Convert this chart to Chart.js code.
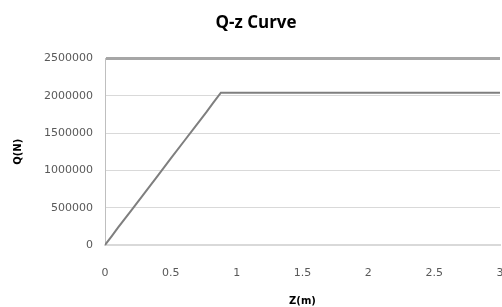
<!DOCTYPE html>
<html lang="en">
<head>
<meta charset="UTF-8">
<title>Q-z Curve</title>
<script src="https://cdn.jsdelivr.net/npm/chart.js"></script>
<style>
    html, body { margin: 0; padding: 0; background: #fff; }
    #wrap { width: 502px; height: 307px; }
</style>
</head>
<body>
<div id="wrap"><canvas id="qz" width="502" height="307"></canvas></div>
<script>
    // Data
    const zValues = [0, 0.05, 0.1, 0.2, 0.3, 0.4, 0.5, 0.6, 0.7, 0.77, 0.82, 0.88, 3];
    const qValues = [0, 115000, 235000, 465000, 695000, 925000, 1160000, 1390000, 1620000, 1780000, 1900000, 2040000, 2040000];
    const xTicks = [0, 0.5, 1, 1.5, 2, 2.5, 3];
    const yTicks = [0, 500000, 1000000, 1500000, 2000000, 2500000];

    const points = zValues.map((z, i) => ({ x: z, y: qValues[i] }));

    new Chart(document.getElementById('qz'), {
        type: 'scatter',
        data: {
            datasets: [{
                label: 'Q',
                data: points,
                showLine: true,
                borderColor: '#7f7f7f',
                borderWidth: 2,
                pointRadius: 0,
                tension: 0
            }]
        },
        options: {
            responsive: false,
            animation: false,
            layout: { padding: { left: 12, right: 2, top: 0, bottom: 0 } },
            plugins: {
                legend: { display: false },
                tooltip: { enabled: false },
                title: {
                    display: true,
                    text: 'Q-z Curve',
                    color: '#000',
                    font: { family: 'Open Sans', size: 17, weight: 'bold' },
                    padding: { top: 13, bottom: 25 }
                }
            },
            scales: {
                x: {
                    type: 'linear',
                    min: 0,
                    max: 3,
                    afterBuildTicks: s => { s.ticks = xTicks.map(v => ({ value: v })); },
                    afterFit: s => { s.height = 62; s.paddingRight = 2; },
                    grid: { display: false },
                    border: { color: '#d9d9d9', width: 2 },
                    ticks: {
                        color: '#595959',
                        font: { family: 'DejaVu Sans', size: 11 },
                        padding: 14,
                        maxRotation: 0,
                        callback: v => String(v)
                    },
                    title: {
                        display: true,
                        text: 'Z(m)',
                        color: '#000',
                        font: { family: 'DejaVu Sans', size: 10, weight: 'bold' },
                        padding: { top: 10, bottom: 0 }
                    }
                },
                y: {
                    min: 0,
                    max: 2500000,
                    afterBuildTicks: s => { s.ticks = yTicks.map(v => ({ value: v })); },
                    afterFit: s => { s.width = 93; },
                    border: { color: '#bfbfbf', width: 1 },
                    grid: {
                        drawTicks: false,
                        color: ctx => ctx.tick && ctx.tick.value === 2500000 ? '#a6a6a6' : '#d9d9d9',
                        lineWidth: ctx => ctx.tick && ctx.tick.value === 2500000 ? 3 : (ctx.tick && ctx.tick.value === 0 ? 2 : 1)
                    },
                    ticks: {
                        color: '#595959',
                        font: { family: 'DejaVu Sans', size: 11 },
                        padding: 12,
                        callback: v => String(v)
                    },
                    title: {
                        display: true,
                        text: 'Q(N)',
                        color: '#000',
                        font: { family: 'DejaVu Sans', size: 10, weight: 'bold' },
                        padding: { top: 0, bottom: 2 }
                    }
                }
            }
        }
    });
</script>
</body>
</html>
